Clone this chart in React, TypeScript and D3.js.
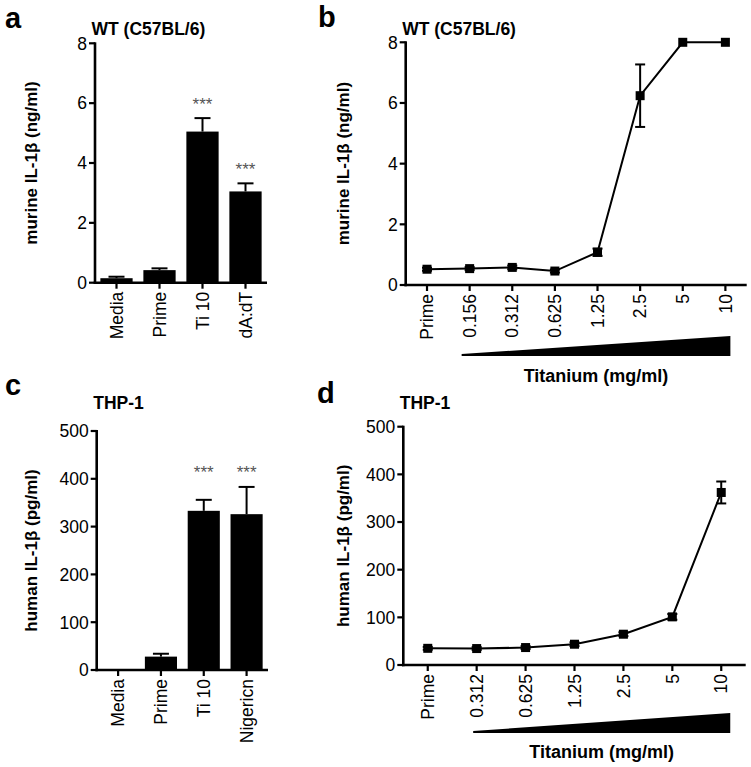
import React from "react";
import * as d3 from "d3";

const aCats = ["Media", "Prime", "Ti 10", "dA:dT"];
const aVals = [0.15, 0.42, 5.05, 3.05];
const aErr = [0.05, 0.06, 0.45, 0.27];
const aSig = ["", "", "***", "***"];
const aTicks = [0, 2, 4, 6, 8];

const bCats = ["Prime", "0.156", "0.312", "0.625", "1.25", "2.5", "5", "10"];
const bVals = [0.52, 0.54, 0.58, 0.46, 1.08, 6.24, 8.0, 8.0];
const bErr = [0.05, 0.05, 0.06, 0.05, 0.12, 1.03, 0, 0];
const bTicks = [0, 2, 4, 6, 8];

const cCats = ["Media", "Prime", "Ti 10", "Nigericn"];
const cVals = [0, 28, 333, 326];
const cErr = [0, 6, 23, 57];
const cSig = ["", "", "***", "***"];
const cTicks = [0, 100, 200, 300, 400, 500];

const dCats = ["Prime", "0.312", "0.625", "1.25", "2.5", "5", "10"];
const dVals = [35, 34.5, 36.6, 43.6, 64.6, 101, 362];
const dErr = [3, 3, 3, 4, 4, 6, 23];
const dTicks = [0, 100, 200, 300, 400, 500];

const FONT = "'Liberation Sans', Arial, Helvetica, sans-serif";

type BarProps = {
  cats: string[]; vals: number[]; err: number[]; sig: string[]; sigVals: number[];
  ticks: number[]; max: number; x0: number; x1: number; y0: number; y1: number;
  title: string; ylabel: string; ylabelX: number; letter: string;
  letterY: number; titleY: number;
};

function BarPanel(p: BarProps) {
  const x = d3.scaleBand<string>().domain(p.cats).range([p.x0, p.x1]).paddingInner(0.25).paddingOuter(0.125);
  const y = d3.scaleLinear().domain([0, p.max]).range([p.y0, p.y1]);
  const bw = x.bandwidth();
  return (
    <g>
      <text x={5} y={p.letterY} fontFamily={FONT} fontWeight="bold" fontSize={29}>{p.letter}</text>
      <text x={p.x0 - 3.5} y={p.titleY} fontFamily={FONT} fontWeight="bold" fontSize={17.5}>{p.title}</text>
      <text transform={`translate(${p.ylabelX},${(p.y0 + p.y1) / 2}) rotate(-90)`} textAnchor="middle"
        fontFamily={FONT} fontWeight="bold" fontSize={17}>{p.ylabel}</text>
      {p.cats.map((c, i) => {
        const cx = (x(c) as number) + bw / 2;
        const top = y(p.vals[i]);
        const et = y(p.vals[i] + p.err[i]);
        return (
          <g key={c}>
            {p.vals[i] > 0 && <rect x={x(c)} y={top} width={bw} height={p.y0 - top} fill="#000" />}
            {p.err[i] > 0 && (
              <g stroke="#000" strokeWidth={2}>
                <line x1={cx} x2={cx} y1={top} y2={et} />
                <line x1={cx - 8} x2={cx + 8} y1={et} y2={et} />
              </g>
            )}
            {p.sig[i] && (
              <text x={cx} y={y(p.sigVals[i])} textAnchor="middle" fontFamily={FONT} fontSize={17} fill="#555">{p.sig[i]}</text>
            )}
            <line x1={cx} x2={cx} y1={p.y0} y2={p.y0 + 6} stroke="#000" strokeWidth={2.2} />
            <text transform={`translate(${cx + 6.2},${p.y0 + 9}) rotate(-90)`} textAnchor="end"
              fontFamily={FONT} fontSize={17.5}>{c}</text>
          </g>
        );
      })}
      {p.ticks.map((t) => (
        <g key={t}>
          <line x1={p.x0 - 6} x2={p.x0} y1={y(t)} y2={y(t)} stroke="#000" strokeWidth={2.2} />
          <text x={p.x0 - 8} y={y(t) + 6.3} textAnchor="end" fontFamily={FONT} fontSize={17.5}>{t}</text>
        </g>
      ))}
      <line x1={p.x0} x2={p.x0} y1={p.y1 - 1} y2={p.y0 + 1.25} stroke="#000" strokeWidth={2.6} />
      <line x1={p.x0 - 1.3} x2={p.x1} y1={p.y0} y2={p.y0} stroke="#000" strokeWidth={2.6} />
    </g>
  );
}

type LineProps = {
  cats: string[]; vals: number[]; err: number[]; ticks: number[]; max: number;
  x0: number; x1: number; y0: number; y1: number; title: string;
  ylabel: string; ylabelX: number; letter: string; letterX: number; letterY: number; titleY: number;
  wedgeL: number; wedgeR: number; wedgeTop: number; wedgeBot: number; xlabelY: number;
};

function LinePanel(p: LineProps) {
  const x = d3.scalePoint<string>().domain(p.cats).range([p.x0, p.x1]).padding(0.5);
  const y = d3.scaleLinear().domain([0, p.max]).range([p.y0, p.y1]);
  const line = d3.line<number>().x((_, i) => x(p.cats[i]) as number).y((v) => y(v));
  const wl = (x(p.cats[1]) as number) + p.wedgeL;
  const wr = (x(p.cats[p.cats.length - 1]) as number) + p.wedgeR;
  return (
    <g>
      <text x={p.letterX} y={p.letterY} fontFamily={FONT} fontWeight="bold" fontSize={29}>{p.letter}</text>
      <text x={p.x0 - 3.5} y={p.titleY} fontFamily={FONT} fontWeight="bold" fontSize={17.5}>{p.title}</text>
      <text transform={`translate(${p.ylabelX},${(p.y0 + p.y1) / 2}) rotate(-90)`} textAnchor="middle"
        fontFamily={FONT} fontWeight="bold" fontSize={17}>{p.ylabel}</text>
      {p.ticks.map((t) => (
        <g key={t}>
          <line x1={p.x0 - 6} x2={p.x0} y1={y(t)} y2={y(t)} stroke="#000" strokeWidth={2.2} />
          <text x={p.x0 - 8} y={y(t) + 6.3} textAnchor="end" fontFamily={FONT} fontSize={17.5}>{t}</text>
        </g>
      ))}
      {p.cats.map((c) => {
        const cx = x(c) as number;
        return (
          <g key={c}>
            <line x1={cx} x2={cx} y1={p.y0} y2={p.y0 + 6} stroke="#000" strokeWidth={2.2} />
            <text transform={`translate(${cx + 6.2},${p.y0 + 9}) rotate(-90)`} textAnchor="end"
              fontFamily={FONT} fontSize={17.5}>{c}</text>
          </g>
        );
      })}
      <path d={line(p.vals) || ""} fill="none" stroke="#000" strokeWidth={2} />
      {p.cats.map((c, i) => {
        const cx = x(c) as number;
        const lo = y(p.vals[i] - p.err[i]);
        const hi = y(p.vals[i] + p.err[i]);
        return (
          <g key={"m" + c}>
            {p.err[i] > 0 && (
              <g stroke="#000" strokeWidth={2}>
                <line x1={cx} x2={cx} y1={lo} y2={hi} />
                <line x1={cx - 5} x2={cx + 5} y1={lo} y2={lo} />
                <line x1={cx - 5} x2={cx + 5} y1={hi} y2={hi} />
              </g>
            )}
            <rect x={cx - 4.5} y={y(p.vals[i]) - 4.5} width={9} height={9} fill="#000" />
          </g>
        );
      })}
      <line x1={p.x0} x2={p.x0} y1={p.y1 - 1} y2={p.y0 + 1.25} stroke="#000" strokeWidth={2.6} />
      <line x1={p.x0 - 1.3} x2={p.x1} y1={p.y0} y2={p.y0} stroke="#000" strokeWidth={2.6} />
      <polygon points={`${wl},${p.wedgeBot} ${wr},${p.wedgeBot} ${wr},${p.wedgeTop} ${wl},${p.wedgeBot - 2}`} fill="#000" />
      <text x={(wl + wr) / 2} y={p.xlabelY} textAnchor="middle" fontFamily={FONT} fontWeight="bold" fontSize={18}>
        Titanium (mg/ml)
      </text>
    </g>
  );
}

export default function App() {
  return (
    <svg width={751} height={767} style={{ position: "absolute", left: 0, top: 0, background: "#fff" }}>
      <rect width={751} height={767} fill="#fff" />
      <BarPanel cats={aCats} vals={aVals} err={aErr} sig={aSig} sigVals={[0, 0, 5.77, 3.6]} ticks={aTicks} max={8}
        x0={95} x1={267} y0={282.7} y1={43.3} title="WT (C57BL/6)" titleY={35}
        ylabel="murine IL-1β (ng/ml)" ylabelX={37} letter="a" letterY={28} />
      <LinePanel cats={bCats} vals={bVals} err={bErr} ticks={bTicks} max={8}
        x0={405.7} x1={746.7} y0={285} y1={42.3} title="WT (C57BL/6)" titleY={35}
        ylabel="murine IL-1β (ng/ml)" ylabelX={349} letter="b" letterX={318} letterY={27}
        wedgeL={-8} wedgeR={5} wedgeTop={336} wedgeBot={356} xlabelY={382} />
      <BarPanel cats={cCats} vals={cVals} err={cErr} sig={cSig} sigVals={[0, 0, 402, 402]} ticks={cTicks} max={500}
        x0={96.7} x1={268} y0={670} y1={431} title="THP-1" titleY={409}
        ylabel="human IL-1β (pg/ml)" ylabelX={37} letter="c" letterY={395} />
      <LinePanel cats={dCats} vals={dVals} err={dErr} ticks={dTicks} max={500}
        x0={403.3} x1={745.7} y0={665} y1={426.7} title="THP-1" titleY={409}
        ylabel="human IL-1β (pg/ml)" ylabelX={349} letter="d" letterX={317} letterY={403}
        wedgeL={-3.5} wedgeR={9} wedgeTop={713} wedgeBot={733} xlabelY={758} />
    </svg>
  );
}
